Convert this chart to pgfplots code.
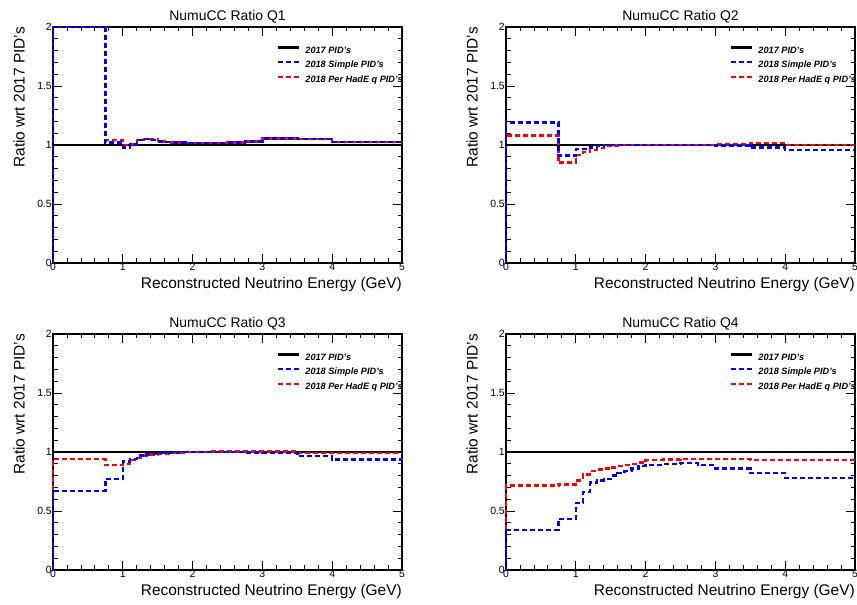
\documentclass[border=0pt]{standalone}
\usepackage{pgfplots}
\usepackage{pgfplotstable}
\pgfplotsset{compat=1.18}
\usepackage{fontspec}
\setmainfont{Liberation Sans}

\pgfplotstableread{
x    q1b   q1r   q2b   q2r   q3b   q3r   q4b   q4r
0    0     0     0     0     0     0     0     0
0    2.0   2.0   1.19  1.08  0.67  0.94  0.34  0.715
0.75 1.02  1.04  0.91  0.85  0.77  0.89  0.43  0.725
1.0  0.98  1.00  0.965 0.915 0.92  0.90  0.57  0.76
1.1  1.005 1.01  0.965 0.94  0.94  0.93  0.66  0.81
1.2  1.04  1.04  0.98  0.96  0.97  0.95  0.74  0.84
1.3  1.05  1.05  0.99  0.975 0.98  0.97  0.76  0.85
1.4  1.04  1.045 1.0   0.99  0.985 0.98  0.77  0.86
1.5  1.03  1.035 1.0   0.995 0.99  0.985 0.80  0.87
1.6  1.025 1.025 1.0   1.0   0.99  0.985 0.82  0.88
1.7  1.02  1.02  1.0   1.0   0.995 0.99  0.84  0.89
1.8  1.02  1.02  1.0   1.0   1.0   0.99  0.86  0.90
1.9  1.015 1.015 1.0   1.0   1.0   1.0   0.88  0.91
2.0  1.015 1.015 1.0   1.0   1.0   1.0   0.89  0.93
2.25 1.015 1.015 1.0   1.0   1.0   1.005 0.90  0.935
2.5  1.02  1.02  1.0   1.0   1.0   1.005 0.905 0.94
2.75 1.03  1.03  1.0   1.0   0.995 1.005 0.89  0.94
3.0  1.055 1.055 0.995 1.01  0.99  1.005 0.86  0.94
3.5  1.05  1.05  0.978 1.015 0.965 0.99  0.82  0.93
4.0  1.025 1.025 0.96  1.0   0.935 0.99  0.78  0.93
5.0  1.025 1.025 0.96  1.0   0.935 0.99  0.78  0.93
}\ratios

\pgfplotsset{
  rootax/.style={
    scale only axis, width=349bp, height=236bp,
    xmin=0, xmax=5, ymin=0, ymax=2,
    xtick={0,1,2,3,4,5}, ytick={0,0.5,1,1.5,2},
    minor x tick num=4, minor y tick num=4,
    tick align=inside, tick pos=both,
    xticklabel pos=bottom, yticklabel pos=left,
    major tick length=9bp, minor tick length=4.5bp,
    axis line style={line width=1.6bp},
    tick style={black, line width=0.8bp},
    /pgf/number format/assume math mode=true,
    yticklabel style={/pgf/number format/fixed, font=\fontsize{10.5}{12}\selectfont, inner sep=1bp},
    xticklabel style={font=\fontsize{10.5}{12}\selectfont, inner sep=1bp, yshift=1bp},
    clip=false,
    title style={at={(axis description cs:0.5,1)}, anchor=base, yshift=1bp, inner sep=0pt, font=\fontsize{14}{16}\selectfont},
    xlabel={Reconstructed Neutrino Energy (GeV)},
    ylabel={Ratio wrt 2017 PID's},
    xlabel style={at={(axis description cs:1,0)}, anchor=north east, yshift=-14bp, inner sep=0pt, font=\fontsize{15.5}{17}\selectfont},
    ylabel style={at={(axis description cs:-0.08,1)}, anchor=south east, inner sep=0pt, font=\fontsize{15.5}{17}\selectfont},
    legend style={at={(axis description cs:0.64,0.92)}, anchor=north west, draw=none, fill=none,
      inner sep=0pt, row sep=5.7bp, column sep=5bp,
      font=\bfseries\itshape\fontsize{9.2}{10}\selectfont,
      nodes={inner sep=0pt, text height=7bp, text depth=2bp}},
    legend cell align=left,
    legend image code/.code={\draw[#1] (0bp,3bp) -- (21.5bp,3bp);},
  },
  oldl/.style={black, line width=2.4bp},
  simp/.style={blue, line width=2.4bp, dash pattern=on 5bp off 3bp},
  perh/.style={red, line width=2.4bp, dash pattern=on 5bp off 3bp},
}

\newcommand{\quadplot}[2]{%
  \addlegendimage{oldl}\addlegendentry{2017 PID's}
  \addlegendimage{simp}\addlegendentry{2018 Simple PID's}
  \addlegendimage{perh}\addlegendentry{2018 Per HadE q PID's}
  \addplot[oldl, const plot mark left, forget plot] coordinates {(0,0) (0,1) (5,1)};
  \addplot[perh, const plot mark left, forget plot] table[x=x, y=#2] {\ratios};
  \addplot[simp, const plot mark left, forget plot] table[x=x, y=#1] {\ratios};
}

\begin{document}
\begin{tikzpicture}[x=1bp,y=1bp]
\path[use as bounding box] (0,0) rectangle (857,605);
\begin{axis}[rootax, at={(53bp,342bp)}, anchor=south west, title={NumuCC Ratio Q1}]
\quadplot{q1b}{q1r}
\end{axis}
\begin{axis}[rootax, at={(506bp,342bp)}, anchor=south west, title={NumuCC Ratio Q2}]
\quadplot{q2b}{q2r}
\end{axis}
\begin{axis}[rootax, at={(53bp,35bp)}, anchor=south west, title={NumuCC Ratio Q3}]
\quadplot{q3b}{q3r}
\end{axis}
\begin{axis}[rootax, at={(506bp,35bp)}, anchor=south west, title={NumuCC Ratio Q4}]
\quadplot{q4b}{q4r}
\end{axis}
\end{tikzpicture}
\end{document}
